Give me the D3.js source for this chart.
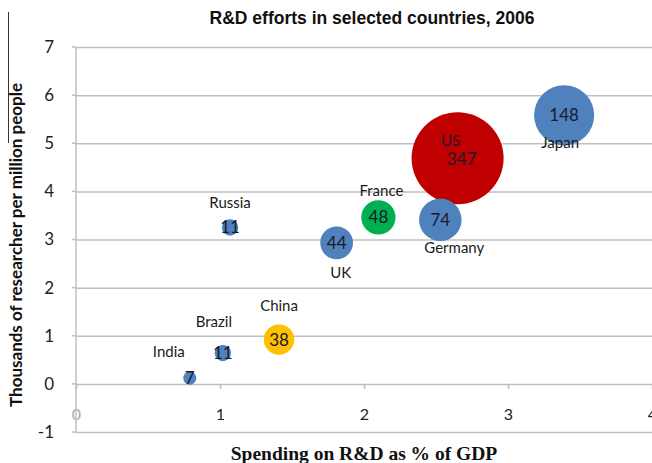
<!DOCTYPE html>
<html><head><meta charset="utf-8">
<script src="https://cdn.jsdelivr.net/npm/d3@7"></script>
<style>body{margin:0;background:#fff}svg{display:block}</style>
</head><body><svg id="c" width="652" height="463"></svg>
<script>
const countries = ["India","Brazil","China","Russia","UK","France","Germany","US","Japan"];
const spending = [0.79, 1.02, 1.41, 1.07, 1.81, 2.10, 2.53, 2.65, 3.39];
const researchers = [0.12, 0.64, 0.92, 3.25, 2.93, 3.46, 3.41, 4.69, 5.58];
const bubbleValues = [7, 11, 38, 11, 44, 48, 74, 347, 148];
const bubbleColors = ["#4F81BD","#4F81BD","#FFC000","#4F81BD","#4F81BD","#00B050","#4F81BD","#C00000","#4F81BD"];
const labelPlace = ["upleft","above","above","above","below","above","belowright","inside","inbelow"];
const xTicks = [0,1,2,3,4];
const yTicks = [-1,0,1,2,3,4,5,6,7];

const svg = d3.select("#c");
const x = d3.scaleLinear().domain([0,4]).range([76,652]);
const y = d3.scaleLinear().domain([-1,7]).range([432,47]);
const r = d3.scaleSqrt().domain([0,347]).range([0,46]);
const font = "Lato, 'Open Sans', sans-serif";
const fmt = d => String(d);

// gridlines
const gy = svg.append("g").attr("transform","translate(76,0)")
  .call(d3.axisLeft(y).tickValues(yTicks).tickFormat(fmt).tickSize(-576).tickSizeOuter(0).tickPadding(22));
gy.select(".domain").remove();
gy.selectAll(".tick line").attr("stroke","#bfbfbf").attr("stroke-width",1.5);
gy.selectAll(".tick text").attr("font-family",font).attr("font-size",17).attr("fill","#222");
// small tick stubs left of axis
svg.append("g").selectAll("line").data(yTicks).join("line")
  .attr("x1",72).attr("x2",76).attr("y1",d=>y(d)).attr("y2",d=>y(d))
  .attr("stroke","#bfbfbf").attr("stroke-width",1.5);

// x axis at zero line, labels below
const gx = svg.append("g").attr("transform",`translate(0,${y(0)})`)
  .call(d3.axisBottom(x).tickValues(xTicks).tickFormat(fmt).tickSize(5).tickSizeOuter(0).tickPadding(20));
gx.select(".domain").remove();
gx.selectAll(".tick line").attr("stroke","#bfbfbf").attr("stroke-width",1.5);
gx.selectAll(".tick text").attr("font-family",font).attr("font-size",16).attr("fill","#222");
gx.selectAll(".tick").filter(d=>d===0).select("text").attr("fill","#aaa");

// y axis line
svg.append("line").attr("x1",76).attr("x2",76).attr("y1",y(7)).attr("y2",y(-1))
  .attr("stroke","#bfbfbf").attr("stroke-width",1.5);

// left frame fragment
svg.append("line").attr("x1",8.5).attr("x2",8.5).attr("y1",12).attr("y2",143)
  .attr("stroke","#333").attr("stroke-width",1);

// bubbles
const data = countries.map((c,i)=>({c, x:spending[i], y:researchers[i], v:bubbleValues[i], col:bubbleColors[i], p:labelPlace[i]}));
const order = data.slice().sort((a,b)=>b.v-a.v);
svg.append("g").selectAll("circle").data(order).join("circle")
  .attr("cx",d=>x(d.x)).attr("cy",d=>y(d.y)).attr("r",d=>r(d.v))
  .attr("fill",d=>d.col);

// value labels
svg.append("g").selectAll("text").data(data).join("text")
  .attr("x",d=>x(d.x) + (d.p==="inside"?4:0))
  .attr("y",d=>y(d.y) + (d.p==="inside"?1:0))
  .attr("dy","0.35em").attr("text-anchor","middle")
  .attr("font-family",font).attr("font-size",17).attr("fill","#1a1a2a")
  .text(d=>d.v);

// name labels
function namePos(d){
  const cx=x(d.x), cy=y(d.y), rr=r(d.v);
  switch(d.p){
    case "upleft": return [cx-21, cy-26];
    case "above": return [cx-(d.c==="Brazil"?9:d.c==="France"?-3:0), cy-rr-(d.c==="Russia"?17:d.c==="China"?19:d.c==="Brazil"?23:10)];
    case "below": return [cx+4, cy+rr+14];
    case "belowright": return [cx+14, cy+rr+7];
    case "inside": return [cx-7, cy-17];
    case "inbelow": return [cx-4, cy+27];
  }
}
svg.append("g").selectAll("text").data(data).join("text")
  .attr("x",d=>namePos(d)[0]).attr("y",d=>namePos(d)[1])
  .attr("dy","0.35em").attr("text-anchor","middle")
  .attr("font-family",font).attr("font-size",15).attr("fill",d=>d.p==="inside"?"#1a1a2a":"#1a1a1a")
  .text(d=>d.c);

// titles
svg.append("text").attr("x",372).attr("y",24).attr("text-anchor","middle")
  .attr("font-family","'Liberation Sans', Arial, sans-serif").attr("font-weight","bold")
  .attr("font-size",17.5).attr("fill","#111").text("R&D efforts in selected countries, 2006");
svg.append("text").attr("x",364).attr("y",460).attr("text-anchor","middle")
  .attr("font-family","'Liberation Serif', 'Times New Roman', serif").attr("font-weight","bold")
  .attr("font-size",19.5).attr("fill","#111").text("Spending on R&D as % of GDP");
svg.append("text").attr("transform","translate(22,245) rotate(-90)").attr("text-anchor","middle")
  .attr("font-family",font).attr("font-weight","bold")
  .attr("font-size",17).attr("fill","#111").text("Thousands of researcher per million people");
</script></body></html>
